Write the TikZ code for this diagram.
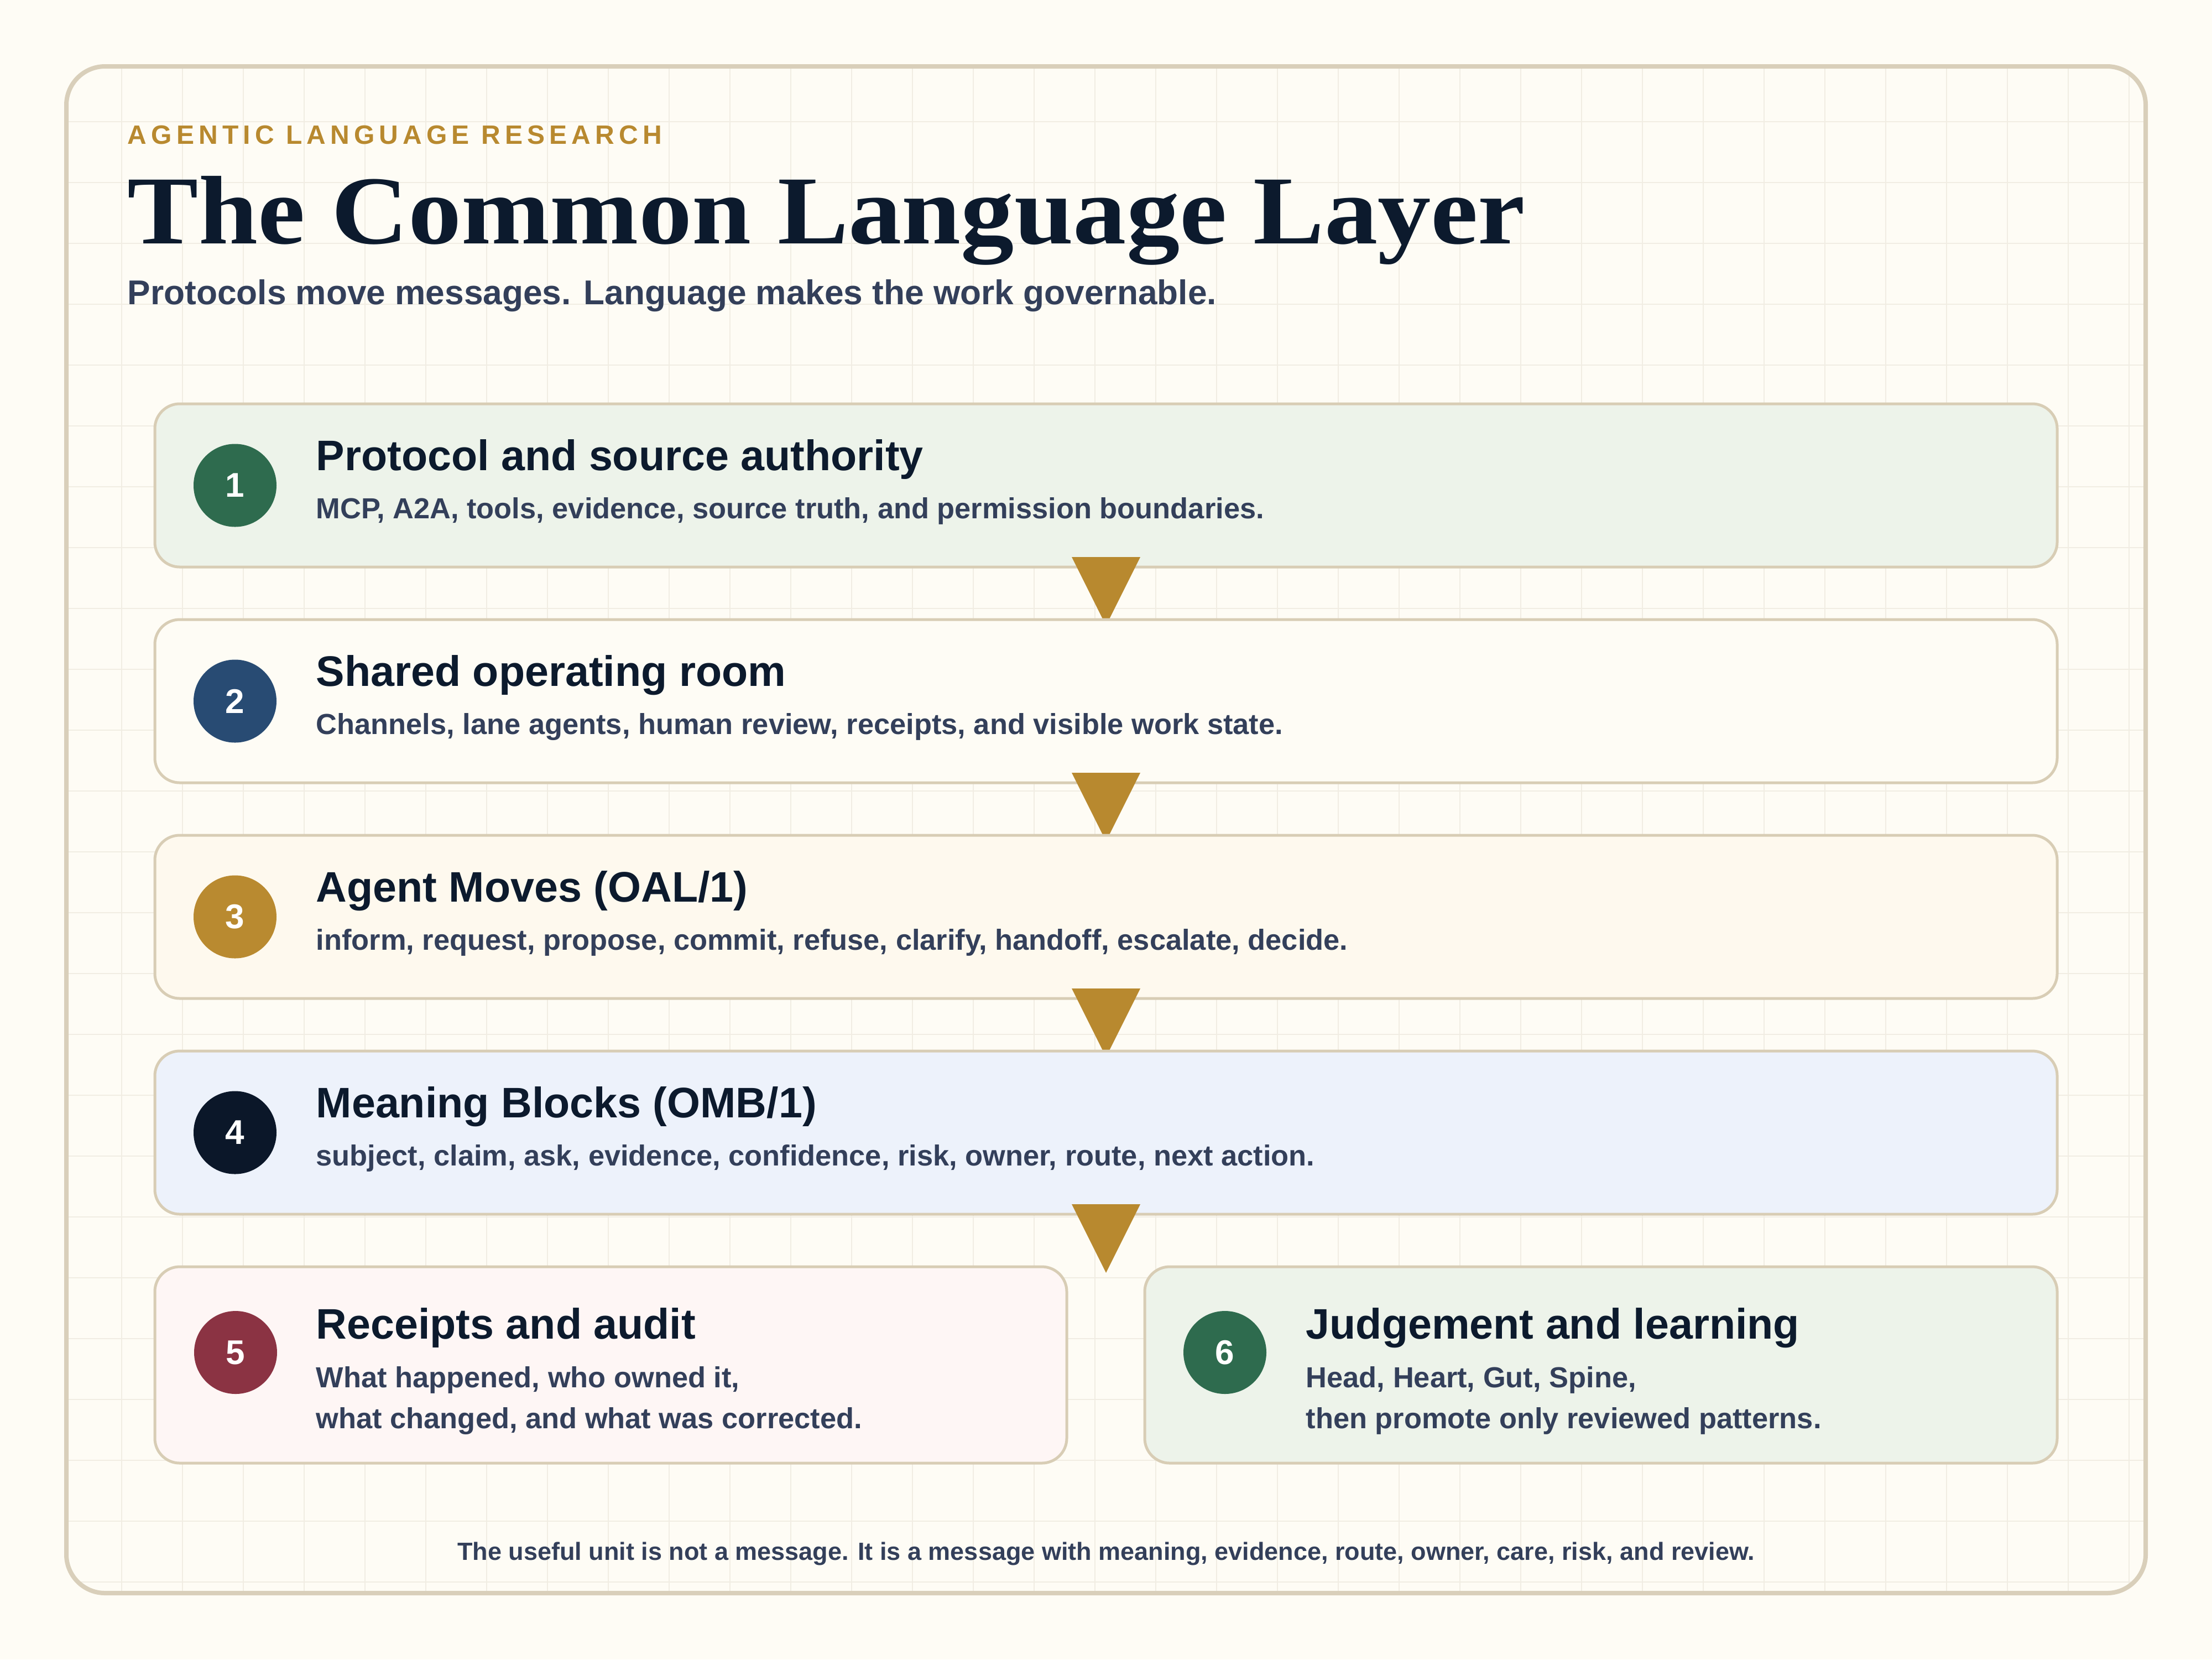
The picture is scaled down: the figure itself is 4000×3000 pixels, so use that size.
\documentclass[tikz,border=0pt]{standalone}
\usepackage{fontspec}
\setmainfont{Liberation Sans}
\newfontfamily\serifbold{Liberation Serif}
\newfontfamily\spaced{Liberation Sans}[LetterSpace=17]
\usetikzlibrary{calc}
\definecolor{bg}{HTML}{FEFCF5}
\definecolor{gridc}{HTML}{F1EDE3}
\definecolor{framec}{HTML}{D9CFBA}
\definecolor{boxline}{HTML}{D8CDB5}
\definecolor{gold}{HTML}{B8892F}
\definecolor{navy}{HTML}{0C1A2D}
\definecolor{slate}{HTML}{333F5A}
\definecolor{cgreen}{HTML}{2E6B4E}
\definecolor{cblue}{HTML}{284B73}
\definecolor{cgold}{HTML}{B98A30}
\definecolor{cnavy}{HTML}{0B1729}
\definecolor{cmaroon}{HTML}{8B3343}
\definecolor{fgreen}{HTML}{EDF3EA}
\definecolor{fcream}{HTML}{FEFCF5}
\definecolor{fsand}{HTML}{FEF9EE}
\definecolor{fblue}{HTML}{EDF2FB}
\definecolor{fpink}{HTML}{FEF6F5}
\begin{document}
\begin{tikzpicture}[x=0.25pt,y=-0.25pt,
  panel/.style={draw=boxline, line width=1.25pt, rounded corners=11.25pt, inner sep=0pt, outer sep=0pt,
    minimum width=860pt, minimum height=73.75pt},
  halfpanel/.style={panel, minimum width=412.25pt, minimum height=88.75pt},
  badge/.style={circle, minimum size=37.5pt, inner sep=0pt, outer sep=0pt, text=white,
    font=\bfseries\fontsize{15.5pt}{15.5pt}\selectfont},
  ttl/.style={anchor=base west, inner sep=0pt, text=navy, font=\bfseries\fontsize{19.3pt}{19.3pt}\selectfont},
  dsc/.style={anchor=base west, inner sep=0pt, text=slate, font=\bfseries\fontsize{13.1pt}{13.1pt}\selectfont},
  flowtri/.style={fill=gold, draw=none}]
\useasboundingbox (0,0) rectangle (4000,3000);
\fill[bg] (0,0) rectangle (4000,3000);
\begin{scope}
  \clip[rounded corners=17.5pt] (120,120) rectangle (3880,2880);
  \foreach \gx in {220,330,...,3850} \draw[gridc, line width=0.45pt] (\gx,120) -- (\gx,2880);
  \foreach \gy in {220,330,...,2860} \draw[gridc, line width=0.45pt] (120,\gy) -- (3880,\gy);
\end{scope}
\draw[framec, line width=2pt, rounded corners=17.5pt] (120,120) rectangle (3880,2880);

% header
\node[anchor=base west, inner sep=0pt, text=gold, font=\spaced\bfseries\fontsize{12pt}{12pt}\selectfont] (eyebrow) at (230,260) {AGENTIC LANGUAGE RESEARCH};
\node[anchor=base west, inner sep=0pt, text=navy, font=\serifbold\bfseries\fontsize{44pt}{44pt}\selectfont] (title) at (230,440) {\scalebox{1.093}[1]{The Common Language Layer}};
\node[anchor=base west, inner sep=0pt, text=slate, font=\bfseries\fontsize{15.55pt}{15.55pt}\selectfont] (subtitle) at (230,550) {Protocols move messages. Language makes the work governable.};

% layer 1
\node[panel, fill=fgreen] (b1) at (2000,877.5) {};
\node[badge, fill=cgreen] (c1) at (425,877.5) {1};
\node[ttl] (t1) at (571,850) {Protocol and source authority};
\node[dsc] (d1) at (571,937) {MCP, A2A, tools, evidence, source truth, and permission boundaries.};
\fill[flowtri] ($(b1.south)+(-62,-18)$) -- ($(b1.south)+(62,-18)$) -- ($(b1.south)+(0,106)$) -- cycle;

% layer 2
\node[panel, fill=fcream] (b2) at (2000,1267.5) {};
\node[badge, fill=cblue] (c2) at (425,1267.5) {2};
\node[ttl] (t2) at (571,1240) {Shared operating room};
\node[dsc] (d2) at (571,1327) {Channels, lane agents, human review, receipts, and visible work state.};
\fill[flowtri] ($(b2.south)+(-62,-18)$) -- ($(b2.south)+(62,-18)$) -- ($(b2.south)+(0,106)$) -- cycle;

% layer 3
\node[panel, fill=fsand] (b3) at (2000,1657.5) {};
\node[badge, fill=cgold] (c3) at (425,1657.5) {3};
\node[ttl] (t3) at (571,1630) {Agent Moves (OAL/1)};
\node[dsc] (d3) at (571,1717) {inform, request, propose, commit, refuse, clarify, handoff, escalate, decide.};
\fill[flowtri] ($(b3.south)+(-62,-18)$) -- ($(b3.south)+(62,-18)$) -- ($(b3.south)+(0,106)$) -- cycle;

% layer 4
\node[panel, fill=fblue] (b4) at (2000,2047.5) {};
\node[badge, fill=cnavy] (c4) at (425,2047.5) {4};
\node[ttl] (t4) at (571,2020) {Meaning Blocks (OMB/1)};
\node[dsc] (d4) at (571,2107) {subject, claim, ask, evidence, confidence, risk, owner, route, next action.};
\fill[flowtri] ($(b4.south)+(-62,-18)$) -- ($(b4.south)+(62,-18)$) -- ($(b4.south)+(0,106)$) -- cycle;

% layer 5
\node[halfpanel, fill=fpink] (b5) at (1104.5,2467.5) {};
\node[badge, fill=cmaroon] (c5) at (426,2445) {5};
\node[ttl] (t5) at (571,2420) {Receipts and audit};
\node[dsc] (d5a) at (571,2508) {What happened, who owned it,};
\node[dsc] (d5b) at (571,2582) {what changed, and what was corrected.};

% layer 6
\node[halfpanel, minimum width=412.5pt, fill=fgreen] (b6) at (2895,2467.5) {};
\node[badge, fill=cgreen] (c6) at (2215,2445) {6};
\node[ttl] (t6) at (2361,2420) {Judgement and learning};
\node[dsc] (d6a) at (2361,2508) {Head, Heart, Gut, Spine,};
\node[dsc] (d6b) at (2361,2582) {then promote only reviewed patterns.};

% footer
\node[anchor=base, inner sep=0pt, text=slate, font=\bfseries\fontsize{11.25pt}{11.25pt}\selectfont] (footer) at (2000,2820) {The useful unit is not a message. It is a message with meaning, evidence, route, owner, care, risk, and review.};
\end{tikzpicture}
\end{document}
